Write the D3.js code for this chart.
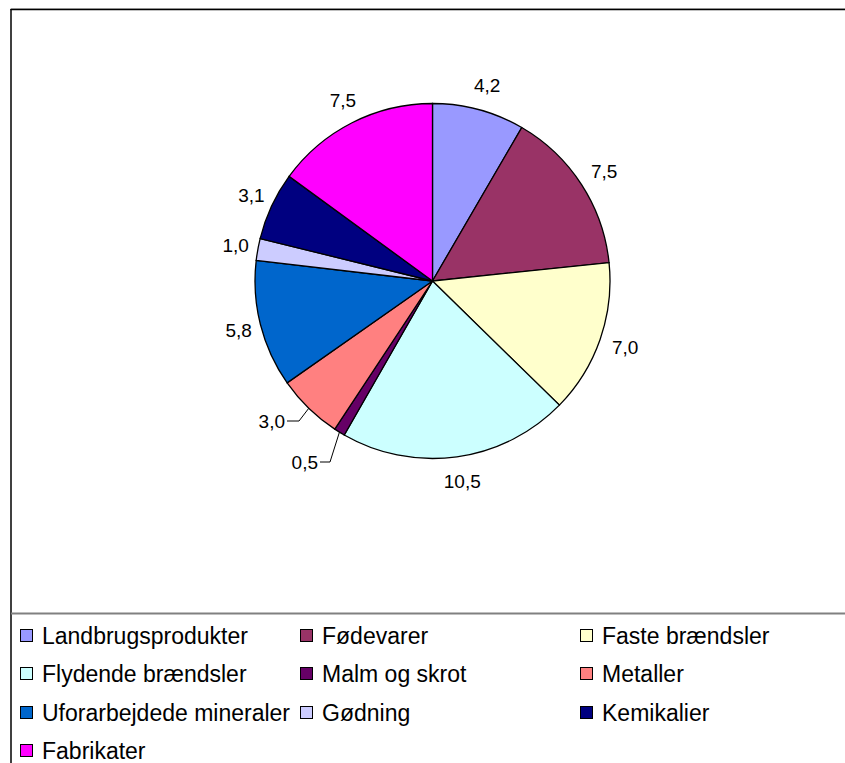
<!DOCTYPE html>
<html><head><meta charset="utf-8">
<script src="https://cdn.jsdelivr.net/npm/d3@7"></script>
<style>body{margin:0;background:#fff}svg{display:block}</style>
</head><body>
<svg id="c" width="845" height="763"></svg>
<script>
const categories = ["Landbrugsprodukter","Fødevarer","Faste brændsler","Flydende brændsler","Malm og skrot","Metaller","Uforarbejdede mineraler","Gødning","Kemikalier","Fabrikater"];
const values = [4.2,7.5,7.0,10.5,0.5,3.0,5.8,1.0,3.1,7.5];
const colors = ["#9999FF","#993366","#FFFFCC","#CCFFFF","#660066","#FF8080","#0066CC","#CCCCFF","#000080","#FF00FF"];
const labelText = values.map(v => v.toFixed(1).replace(".", ","));

const svg = d3.select("#c");
const W = 845, H = 763;
const font = "Liberation Sans, Arial, sans-serif";

// frame
svg.append("line").attr("x1",11).attr("x2",W).attr("y1",8.5).attr("y2",8.5).attr("stroke","#c0c0c0").attr("stroke-width",1);
svg.append("line").attr("x1",10.5).attr("x2",W).attr("y1",9.5).attr("y2",9.5).attr("stroke","#000").attr("stroke-width",1.5);
svg.append("line").attr("x1",11).attr("x2",11).attr("y1",9).attr("y2",H).attr("stroke","#000").attr("stroke-width",1.5);
svg.append("line").attr("x1",11).attr("x2",W).attr("y1",613.5).attr("y2",613.5).attr("stroke","#808080").attr("stroke-width",2);

const cx = 432.5, cy = 281, r = 177.5;
const g = svg.append("g").attr("transform",`translate(${cx},${cy})`);
const pie = d3.pie().sort(null).value(d => d)(values);
const arc = d3.arc().innerRadius(0).outerRadius(r);
g.selectAll("path.s").data(pie).join("path").attr("class","s")
  .attr("d", arc).attr("fill",(d,i)=>colors[i]).attr("stroke","#000").attr("stroke-width",1.3);

// labels
const labR = 202;
const leader = {4:{lx:-102.5,ly:181,ex:-112.5}, 5:{lx:-133.5,ly:140,ex:-145.5}};
pie.forEach((d,i) => {
  const a = (d.startAngle + d.endAngle)/2;
  let x = Math.sin(a)*labR, y = -Math.cos(a)*labR;
  if (leader[i]) {
    const L = leader[i];
    const px = Math.sin(a)*r, py = -Math.cos(a)*r;
    g.append("polyline").attr("points",`${px},${py} ${L.lx},${L.ly} ${L.ex},${L.ly}`)
      .attr("fill","none").attr("stroke","#000").attr("stroke-width",1);
    g.append("text").attr("x",L.ex-2).attr("y",L.ly).attr("text-anchor","end").attr("dominant-baseline","central")
      .attr("font-family",font).attr("font-size",19).text(labelText[i]);
  } else {
    g.append("text").attr("x",x+2).attr("y",y).attr("text-anchor","middle").attr("dominant-baseline","central")
      .attr("font-family",font).attr("font-size",19).text(labelText[i]);
  }
});

// legend
const colX = [20,300,580], rowY = [629,667,706,744];
categories.forEach((c,i) => {
  const col = i%3, row = Math.floor(i/3);
  const lg = svg.append("g").attr("transform",`translate(${colX[col]},${rowY[row]})`);
  lg.append("rect").attr("x",0.5).attr("y",0.5).attr("width",12).attr("height",12).attr("fill",colors[i]).attr("stroke","#000").attr("stroke-width",1);
  lg.append("text").attr("x",22).attr("y",6.5).attr("dominant-baseline","central").attr("font-family",font).attr("font-size",23).text(c);
});
</script>
</body></html>
